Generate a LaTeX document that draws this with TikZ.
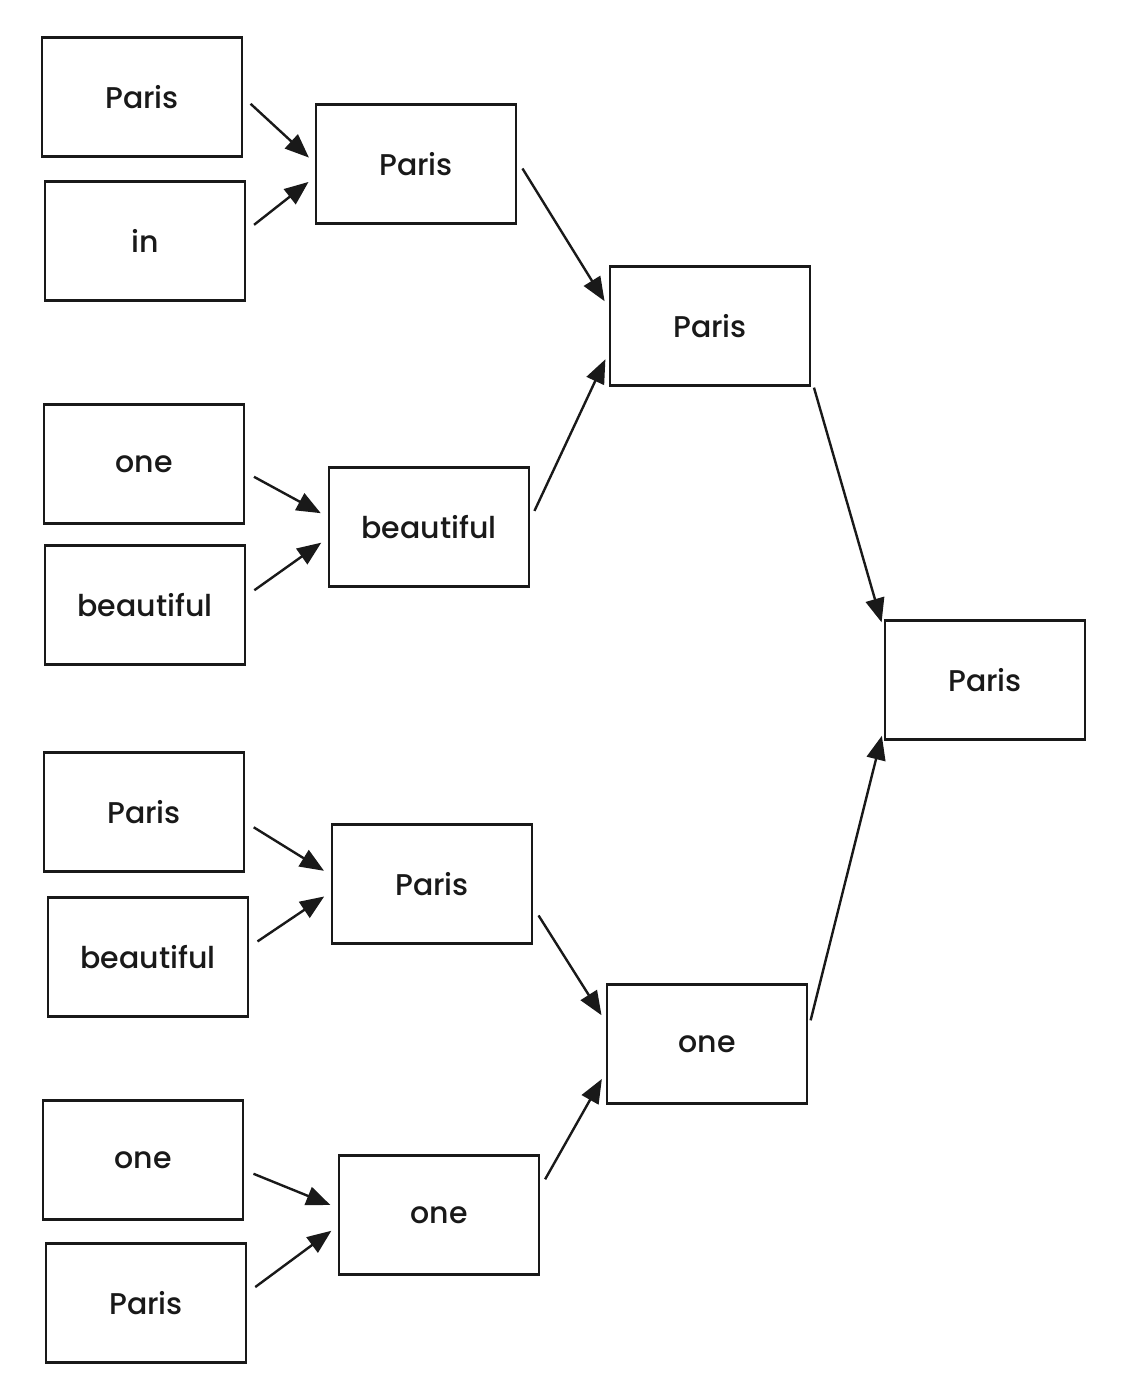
\documentclass[tikz,border=0pt]{standalone}
\usepackage{fontspec}
\setmainfont{Poppins}[UprightFont=* Medium]
\usetikzlibrary{arrows.meta, positioning}
\tikzset{
  word/.style={draw, line width=2.4pt, minimum width=200pt, minimum height=119pt, font=\fontsize{30}{36}\selectfont},
  arrow/.style={-{Triangle[length=24pt,width=19pt]}, line width=2.4pt, shorten <=10pt, shorten >=8pt}
}
\begin{document}
\begin{tikzpicture}[x=1pt,y=-1pt,color={black!90}]
  \useasboundingbox (0,0) rectangle (1130,1390);

  % --- inputs
  \node[word] (in1) at (142,97) {Paris};
  \node[word] (in2) at (145,241) {in};
  \node[word] (in3) at (144,464) {one};
  \node[word] (in4) at (145,605) {beautiful};
  \node[word] (in5) at (144,812) {Paris};
  \node[word] (in6) at (148,957) {beautiful};
  \node[word] (in7) at (143,1160) {one};
  \node[word] (in8) at (146,1303) {Paris};

  % --- first merge
  \node[word] (mid1) at (416,164) {Paris};
  \node[word] (mid2) at (429,527) {beautiful};
  \node[word] (mid3) at (432,884) {Paris};
  \node[word] (mid4) at (439,1215) {one};

  % --- second merge
  \node[word] (top1) at (710,326) {Paris};
  \node[word] (top2) at (707,1044) {one};

  % --- result
  \node[word] (root) at (985,680) {Paris};

  \draw[arrow] (in1.east) -- ([yshift=1pt]mid1.west);
  \draw[arrow] ([yshift=10pt]in2.east) -- ([yshift=-13pt]mid1.west);
  \draw[arrow] ([yshift=-8pt]in3.east) -- ([yshift=10pt]mid2.west);
  \draw[arrow] ([yshift=9pt]in4.east) -- ([yshift=-11pt]mid2.west);
  \draw[arrow] ([yshift=-10pt]in5.east) -- ([yshift=9pt]mid3.west);
  \draw[arrow] ([yshift=10pt]in6.east) -- ([yshift=-8pt]mid3.west);
  \draw[arrow] ([yshift=-10pt]in7.east) -- ([yshift=7pt]mid4.west);
  \draw[arrow] ([yshift=10pt]in8.east) -- ([yshift=-11pt]mid4.west);
  \draw[arrow] ([yshift=4pt]mid1.east) -- ([yshift=18pt]top1.west);
  \draw[arrow] ([yshift=7pt]mid2.east) -- ([yshift=-26pt]top1.west);
  \draw[arrow] ([yshift=-23pt]mid3.east) -- ([yshift=22pt]top2.west);
  \draw[arrow] ([yshift=27pt]mid4.east) -- ([yshift=-28pt]top2.west);
  \draw[arrow] ([yshift=-52pt]top1.east) -- ([yshift=50pt]root.west);
  \draw[arrow] ([yshift=14pt]top2.east) -- ([yshift=-48pt]root.west);
\end{tikzpicture}
\end{document}
